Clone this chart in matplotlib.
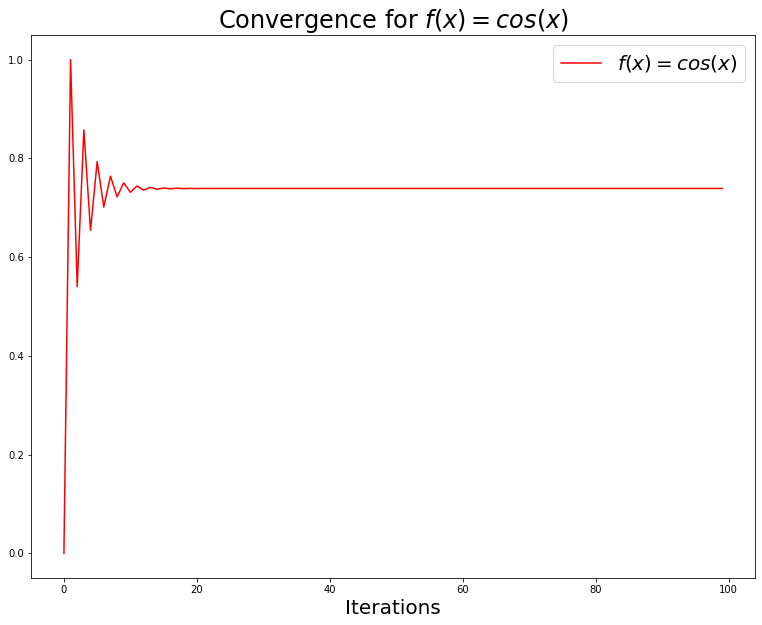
import matplotlib
matplotlib.use('Agg')
import matplotlib.pyplot as plt

# fixed-point iterates, index 0..99
iterations = list(range(100))
values = [
    0.0, 1.0, 0.5403, 0.8576, 0.6543, 0.7935, 0.7014, 0.7640, 0.7221, 0.7504,
    0.7314, 0.7442, 0.7356, 0.7414, 0.7375, 0.7401, 0.7384, 0.7396, 0.7388, 0.7393,
    0.7389, 0.7392, 0.7390,
    0.7391, 0.7391, 0.7391, 0.7391, 0.7391, 0.7391, 0.7391, 0.7391, 0.7391, 0.7391, 0.7391,
    0.7391, 0.7391, 0.7391, 0.7391, 0.7391, 0.7391, 0.7391, 0.7391, 0.7391, 0.7391, 0.7391,
    0.7391, 0.7391, 0.7391, 0.7391, 0.7391, 0.7391, 0.7391, 0.7391, 0.7391, 0.7391, 0.7391,
    0.7391, 0.7391, 0.7391, 0.7391, 0.7391, 0.7391, 0.7391, 0.7391, 0.7391, 0.7391, 0.7391,
    0.7391, 0.7391, 0.7391, 0.7391, 0.7391, 0.7391, 0.7391, 0.7391, 0.7391, 0.7391, 0.7391,
    0.7391, 0.7391, 0.7391, 0.7391, 0.7391, 0.7391, 0.7391, 0.7391, 0.7391, 0.7391, 0.7391,
    0.7391, 0.7391, 0.7391, 0.7391, 0.7391, 0.7391, 0.7391, 0.7391, 0.7391, 0.7391, 0.7391,
]
label = r'$f(x) = cos(x)$'

fig, ax = plt.subplots(figsize = (762 / 72, 625 / 72), dpi = 72)
fig.subplots_adjust(left = 31 / 762, right = 755 / 762, bottom = 1 - 578 / 625, top = 1 - 35 / 625)

ax.plot(iterations, values, color = 'red', label = label)
ax.set_title('Convergence for ' + label, fontsize = 24)
ax.set_xlabel('Iterations', fontsize = 20)
ax.legend(fontsize = 20)
ax.tick_params(labelsize = 10)

fig.savefig('out.png', dpi = 72, facecolor = 'white')
